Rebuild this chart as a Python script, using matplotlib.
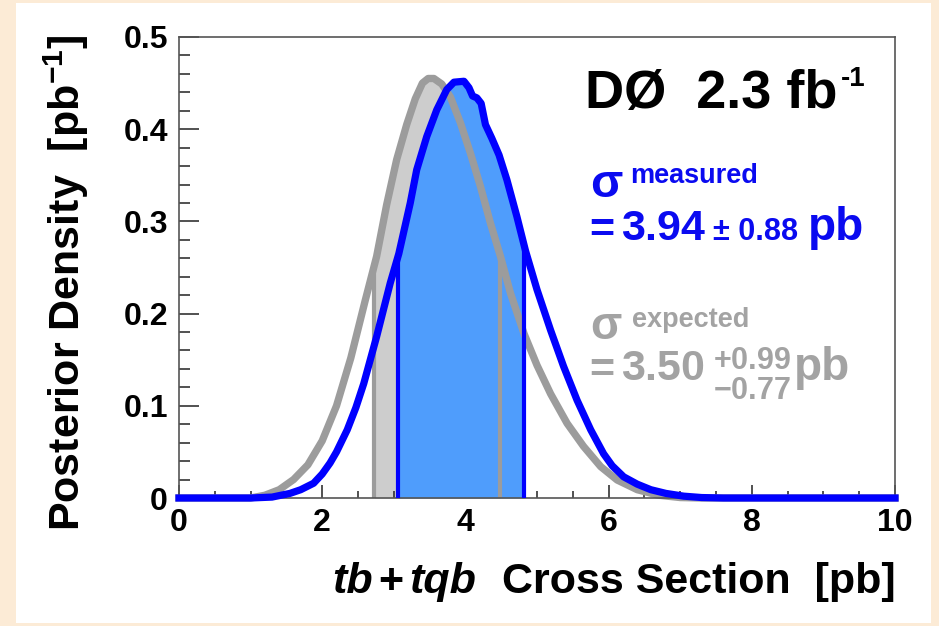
import numpy as np
import matplotlib
matplotlib.use("Agg")
import matplotlib.pyplot as plt
from matplotlib.patches import Rectangle
from matplotlib.ticker import MultipleLocator

plt.rcParams['font.family'] = ['Liberation Sans', 'DejaVu Sans']
plt.rcParams['font.weight'] = 'bold'
plt.rcParams['mathtext.fontset'] = 'custom'
plt.rcParams['mathtext.rm'] = 'Liberation Sans:bold'
plt.rcParams['mathtext.bf'] = 'Liberation Sans:bold'
plt.rcParams['mathtext.it'] = 'Liberation Sans:bold:italic'

# ---------------- data ----------------
measured_x = [0, 1.0, 1.3, 1.55, 1.7, 1.88, 2.0, 2.11, 2.2, 2.35, 2.47, 2.58, 2.76, 2.95, 3.07,
              3.23, 3.32, 3.46, 3.60, 3.74, 3.84, 3.98, 4.05, 4.10, 4.16, 4.22, 4.28, 4.37,
              4.47, 4.58, 4.72, 4.84, 5.0, 5.19, 5.37, 5.56, 5.75, 5.93, 6.05, 6.21, 6.4,
              6.59, 6.8, 7.05, 7.3, 7.6, 10]
measured_y = [0, 0, 0.001, 0.005, 0.009, 0.016, 0.026, 0.038, 0.05, 0.074, 0.098, 0.124, 0.175,
              0.233, 0.265, 0.32, 0.356, 0.392, 0.421, 0.443, 0.451, 0.452, 0.445, 0.436,
              0.434, 0.428, 0.405, 0.39, 0.372, 0.345, 0.305, 0.268, 0.226, 0.182, 0.143,
              0.106, 0.074, 0.048, 0.035, 0.023, 0.015, 0.009, 0.005, 0.002, 0.0005, 0, 0]

expected_x = [0, 1.0, 1.2, 1.4, 1.6, 1.8, 2.0, 2.2, 2.4, 2.6, 2.76, 2.90, 3.04, 3.18, 3.30,
              3.40, 3.48, 3.56, 3.67, 3.79, 3.93, 4.07, 4.21, 4.35, 4.49, 4.63, 4.82, 5.0,
              5.19, 5.42, 5.65, 5.89, 6.12, 6.40, 6.7, 7.0, 7.3, 10]
expected_y = [0, 0, 0.003, 0.009, 0.020, 0.036, 0.062, 0.100, 0.152, 0.214, 0.262, 0.318,
              0.367, 0.405, 0.433, 0.450, 0.455, 0.455, 0.449, 0.435, 0.407, 0.374, 0.338,
              0.298, 0.262, 0.222, 0.178, 0.144, 0.113, 0.081, 0.056, 0.034, 0.0195, 0.009,
              0.003, 0.0005, 0, 0]

measured_central = 3.94
measured_err = 0.88
expected_central = 3.50
expected_up = 0.99
expected_down = 0.77

xticks = [0, 2, 4, 6, 8, 10]
xtick_labels = ["0", "2", "4", "6", "8", "10"]
yticks = [0, 0.1, 0.2, 0.3, 0.4, 0.5]
ytick_labels = ["0", "0.1", "0.2", "0.3", "0.4", "0.5"]

# ---------------- styling ----------------
W, H = 939, 626
BLUE_LINE = "#0000ff"
BLUE_FILL = "#4f9dfc"
GREY_LINE = "#9c9c9c"
GREY_FILL = "#cdcdcd"
BLUE_TXT = "#0a0af0"
GREY_TXT = "#a3a3a3"
CREAM = "#fcebd6"

fig = plt.figure(figsize=(W / 100, H / 100), dpi=100, facecolor=CREAM)
fig.patches.append(Rectangle((16 / W, 1 - 623 / H), (931 - 16) / W, (623 - 3) / H,
                             transform=fig.transFigure, facecolor="white",
                             edgecolor="none", zorder=-10))

L, R, T, B = 179, 895, 37, 498
ax = fig.add_axes([L / W, 1 - B / H, (R - L) / W, (B - T) / H])
ax.set_xlim(0, 10)
ax.set_ylim(0, 0.5)

mx = np.array(measured_x); my = np.array(measured_y)
ex = np.array(expected_x); ey = np.array(expected_y)


def band(x, y, lo, hi):
    inner = (x > lo) & (x < hi)
    xs = np.concatenate([[lo], x[inner], [hi]])
    ys = np.interp(xs, x, y)
    return xs, ys

e_lo, e_hi = expected_central - expected_down, expected_central + expected_up
m_lo, m_hi = measured_central - measured_err, measured_central + measured_err

xs, ys = band(ex, ey, e_lo, e_hi)
ax.fill_between(xs, 0, ys, color=GREY_FILL, lw=0, zorder=1)
xs, ys = band(mx, my, m_lo, m_hi)
ax.fill_between(xs, 0, ys, color=BLUE_FILL, lw=0, zorder=2)

ax.plot(ex, ey, color=GREY_LINE, lw=5.3, zorder=3, clip_on=False, solid_joinstyle='round')
ax.vlines([e_lo, e_hi], 0, np.interp([e_lo, e_hi], ex, ey), color=GREY_LINE, lw=3, zorder=3)
ax.plot(mx, my, color=BLUE_LINE, lw=5.2, zorder=5, clip_on=False, solid_joinstyle='round')
ax.vlines([m_lo, m_hi], 0, np.interp([m_lo, m_hi], mx, my), color=BLUE_LINE, lw=3, zorder=5)

for s in ax.spines.values():
    s.set_color("#555555")
    s.set_linewidth(1.2)
    s.set_zorder(4)

ax.set_xticks(xticks)
ax.set_xticklabels(xtick_labels)
ax.set_yticks(yticks)
ax.set_yticklabels(ytick_labels)
ax.xaxis.set_minor_locator(MultipleLocator(0.5))
ax.yaxis.set_minor_locator(MultipleLocator(0.02))
ax.tick_params(axis='both', which='both', direction='in', top=False, right=False,
               color="#333333", width=1.2, labelsize=23)
ax.tick_params(axis='x', which='major', length=9.5, pad=7)
ax.tick_params(axis='x', which='minor', length=5)
ax.tick_params(axis='y', which='major', length=14.5, pad=8)
ax.tick_params(axis='y', which='minor', length=8)
for lab in ax.get_xticklabels() + ax.get_yticklabels():
    lab.set_fontweight('bold')

renderer = fig.canvas.get_renderer()


def put(x, y, s, size, color="black", style="normal", **kw):
    t = fig.text(x / W, 1 - y / H, s, fontsize=size, color=color, fontweight='bold',
                 fontstyle=style, ha='left', va='baseline', **kw)
    bb = t.get_window_extent(renderer=renderer)
    return t, bb.x1


def mt(s):
    return r"$\mathrm{" + s + "}$"

# y label
fig.text(66 / W, 1 - 283 / H, r"Posterior Density  [pb$^{-1}$]", rotation=90,
         fontsize=31, fontweight='bold', ha='center', va='center')

# x label (right aligned to axes right edge)
pieces = [("tb", "italic", 0), ("+", "normal", 6), ("tqb", "italic", 6),
          ("Cross Section  [pb]", "normal", 26)]
texts = []
x = 0
for s, st, gap in pieces:
    t, x1 = put(x + gap, 593, s, 31, style=st)
    texts.append((t, x + gap))
    x = x1
shift = 896 - x
for t, x0 in texts:
    t.set_x((x0 + shift) / W)

# title
_, x = put(585, 108, "DØ  2.3 fb", 39)
put(x + 3, 86, "-1", 20)

# measured
put(590, 197, mt("σ"), 34, color=BLUE_TXT)
put(630, 183, "measured", 19.5, color=BLUE_TXT)
_, x = put(582, 240, mt("="), 31, color=BLUE_TXT)
_, x = put(x + 6, 240, mt("3.94"), 31, color=BLUE_TXT)
_, x = put(x + 7, 240, "± 0.88", 22, color=BLUE_TXT)
put(x + 9, 240, "pb", 33, color=BLUE_TXT)

# expected
put(590, 339, mt("σ"), 33, color=GREY_TXT)
put(632, 327, "expected", 19.5, color=GREY_TXT)
_, x = put(582, 380, mt("="), 31, color=GREY_TXT)
_, x = put(x + 6, 380, mt("3.50"), 31, color=GREY_TXT)
_, x1 = put(x + 8, 369, mt("+0.99"), 22, color=GREY_TXT)
_, x2 = put(x + 8, 399, mt("-0.77"), 22, color=GREY_TXT)
put(max(x1, x2) + 3, 380, "pb", 33, color=GREY_TXT)

fig.savefig("out.png", dpi=100, facecolor=CREAM)
